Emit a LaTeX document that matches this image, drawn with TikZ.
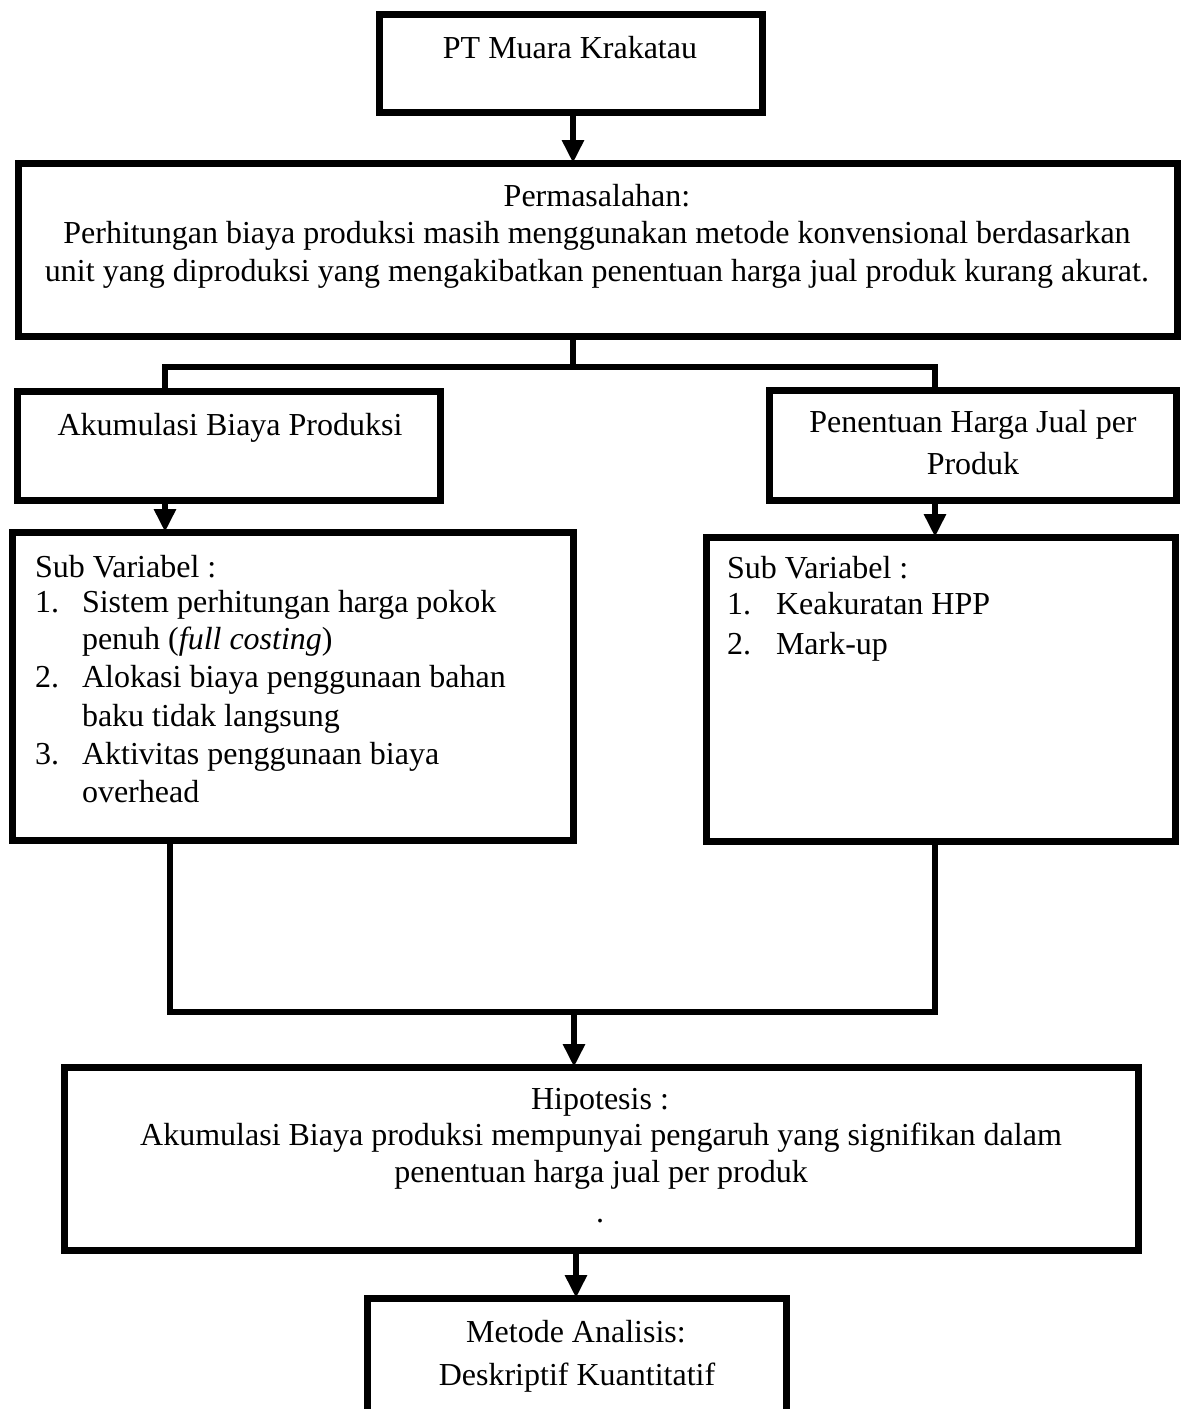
\documentclass[tikz,border=0pt]{standalone}
\usepackage{fontspec}
\setmainfont{Liberation Serif}
\usetikzlibrary{arrows.meta}
\begin{document}
\begin{tikzpicture}[x=1pt,y=-1pt,
  box/.style={draw=black,line width=7pt,inner sep=0pt,outer sep=0pt,rectangle},
  conn/.style={draw=black,line width=6pt},
  arr/.style={draw=black,line width=6pt,-{Triangle[width=21pt,length=23pt]}},
  txt/.style={inner sep=0pt,outer sep=0pt,font=\fontsize{32}{38}\selectfont,anchor=base},
  txtl/.style={txt,anchor=base west}]
\useasboundingbox (0,0) rectangle (1185,1409);
% boxes
\node[box,minimum width=383pt,minimum height=98pt] (b1) at (570.5,63) {};
\node[box,minimum width=1159pt,minimum height=173pt] (b2) at (597.5,249.5) {};
\node[box,minimum width=423pt,minimum height=109pt] (b3) at (228.5,445.5) {};
\node[box,minimum width=407pt,minimum height=110pt] (b4) at (972.5,445) {};
\node[box,minimum width=561pt,minimum height=308pt] (b5) at (292.5,686) {};
\node[box,minimum width=469pt,minimum height=304pt] (b6) at (940.5,689) {};
\node[box,minimum width=1074pt,minimum height=183pt] (b7) at (601,1158.5) {};
\node[box,minimum width=419pt,minimum height=142pt] (b8) at (576.5,1369) {};
% texts
\node[txt] (t1) at (570,58) {PT Muara Krakatau};
\node[txt] (t2a) at (597,206) {Permasalahan:};
\node[txt] (t2b) at (597,243) {Perhitungan biaya produksi masih menggunakan metode konvensional berdasarkan};
\node[txt] (t2c) at (597,281) {unit yang diproduksi yang mengakibatkan penentuan harga jual produk kurang akurat.};
\node[txt] (t3) at (230,435) {Akumulasi Biaya Produksi};
\node[txt] (t4a) at (973,432) {Penentuan Harga Jual per};
\node[txt] (t4b) at (973,474) {Produk};
\node[txtl] (t5a) at (35,577) {Sub Variabel :};
\node[txtl] (t5n1) at (35,612) {1.};
\node[txtl] (t5b) at (82,612) {Sistem perhitungan harga pokok};
\node[txtl] (t5c) at (82,649) {penuh (\textit{full costing})};
\node[txtl] (t5n2) at (35,687) {2.};
\node[txtl] (t5d) at (82,687) {Alokasi biaya penggunaan bahan};
\node[txtl] (t5e) at (82,726) {baku tidak langsung};
\node[txtl] (t5n3) at (35,764) {3.};
\node[txtl] (t5f) at (82,764) {Aktivitas penggunaan biaya};
\node[txtl] (t5g) at (82,802) {overhead};
\node[txtl] (t6a) at (727,578) {Sub Variabel :};
\node[txtl] (t6n1) at (727,614) {1.};
\node[txtl] (t6b) at (776,614) {Keakuratan HPP};
\node[txtl] (t6n2) at (727,654) {2.};
\node[txtl] (t6c) at (776,654) {Mark-up};
\node[txt] (t7a) at (600,1109) {Hipotesis :};
\node[txt] (t7b) at (601,1145) {Akumulasi Biaya produksi mempunyai pengaruh yang signifikan dalam};
\node[txt] (t7c) at (601,1182) {penentuan harga jual per produk};
\node[txt] (t7d) at (600,1222) {.};
\node[txt] (t8a) at (576,1342) {Metode Analisis:};
\node[txt] (t8b) at (577,1385) {Deskriptif Kuantitatif};
% connector coordinates
\coordinate (xl) at (165,0);
\coordinate (xl2) at (170,0);
\coordinate (xr) at (935,0);
\coordinate (xm) at (573,0);
\coordinate (xm2) at (576,0);
\coordinate (bus1) at (573,367);
\coordinate (bus2) at (574,1012);
% connectors
\draw[arr] (b1.south -| xm) -- (b2.north -| xm);
\draw[conn] (b2.south -| xm) -- (bus1);
\draw[conn,line join=miter] (b3.north -| xl) -- (xl |- bus1) -- (xr |- bus1) -- (b4.north -| xr);
\draw[arr] (b3.south -| xl) -- (b5.north -| xl);
\draw[arr] (b4.south -| xr) -- (b6.north -| xr);
\draw[conn,line join=miter] (b5.south -| xl2) -- (xl2 |- bus2) -- (xr |- bus2) -- (b6.south -| xr);
\draw[arr] (bus2) -- (b7.north -| bus2);
\draw[arr] (b7.south -| xm2) -- (b8.north -| xm2);
\end{tikzpicture}
\end{document}
